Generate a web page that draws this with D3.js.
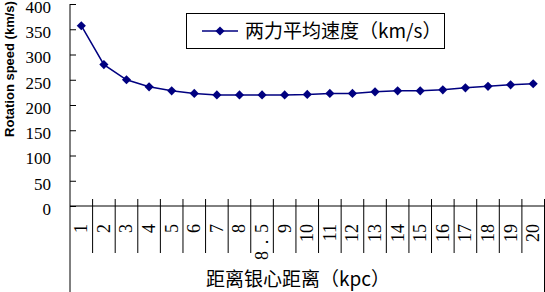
<!DOCTYPE html>
<html>
<head>
<meta charset="utf-8">
<script src="https://cdn.jsdelivr.net/npm/d3@7"></script>
<style>
    body { margin: 0; background: #fff; }
    svg { display: block; }
</style>
</head>
<body>
<svg id="chart" width="545" height="292"></svg>
<script>
// Distance from galactic centre (kpc) and mean rotation speed (km/s).
const distanceLabels = ['1', '2', '3', '4', '5', '6', '7', '8', '8．5', '9', '10',
    '11', '12', '13', '14', '15', '16', '17', '18', '19', '20'];
const speedValues = [357, 280, 250, 236, 228, 223, 220, 220, 220, 220, 221,
    223, 223, 226, 228, 228, 230, 234, 237, 240, 242];
const yTicks = [0, 50, 100, 150, 200, 250, 300, 350, 400];
const seriesName = '两力平均速度（km/s）';
const xTitle = '距离银心距离（kpc）';
const yTitle = 'Rotation speed (km/s)';

const svg = d3.select('#chart');
const plotLeft = 70, plotRight = 544.5, plotTop = 4, axisY = 206;
const numFont = "'Liberation Serif', 'Times New Roman', serif";
const cjkFont = "'Noto Sans CJK SC', sans-serif";
const navy = '#000080';

const x = d3.scaleBand().domain(distanceLabels).range([plotLeft, plotRight]).padding(0);
const y = d3.scaleLinear().domain([0, 400]).range([axisY, plotTop]);

// Y axis, ticks point inwards.
const yAxis = svg.append('g')
    .attr('transform', `translate(${plotLeft},0)`)
    .call(d3.axisLeft(y).tickValues(yTicks).tickSizeInner(-6).tickSizeOuter(0).tickPadding(19));
yAxis.select('.domain').remove();
yAxis.selectAll('.tick line').attr('stroke', '#000');
yAxis.selectAll('.tick text')
    .attr('y', 3)
    .style('font-family', numFont)
    .style('font-size', '17px')
    .attr('fill', '#000');

// Left axis line runs down through the category area.
svg.append('line')
    .attr('x1', plotLeft).attr('x2', plotLeft)
    .attr('y1', plotTop).attr('y2', 292)
    .attr('stroke', '#000');

// X axis baseline.
svg.append('line')
    .attr('x1', plotLeft).attr('x2', plotRight)
    .attr('y1', axisY).attr('y2', axisY)
    .attr('stroke', '#000');

// Category separators.
svg.append('g')
    .selectAll('line')
    .data(distanceLabels.slice(1))
    .join('line')
    .attr('x1', d => x(d)).attr('x2', d => x(d))
    .attr('y1', axisY - 7).attr('y2', 253)
    .attr('stroke', '#000');

svg.append('line')
    .attr('x1', plotRight).attr('x2', plotRight)
    .attr('y1', axisY - 7).attr('y2', 292)
    .attr('stroke', '#000');

// Rotated category labels.
svg.append('g')
    .selectAll('text')
    .data(distanceLabels)
    .join('text')
    .attr('transform', d => `translate(${x(d) + x.bandwidth() / 2 + 6},224) rotate(-90)`)
    .attr('text-anchor', 'end')
    .style('font-family', numFont)
    .style('font-size', '18px')
    .text(d => d);

// Series line and markers.
const pts = distanceLabels.map((d, i) => [x(d) + x.bandwidth() / 2, y(speedValues[i])]);
svg.append('path')
    .attr('d', d3.line()(pts))
    .attr('fill', 'none')
    .attr('stroke', navy)
    .attr('stroke-width', 1.5);

const diamond = d3.symbol(d3.symbolSquare, 42)();
svg.append('g')
    .selectAll('path')
    .data(pts)
    .join('path')
    .attr('d', diamond)
    .attr('transform', d => `translate(${d[0]},${d[1]}) rotate(45)`)
    .attr('fill', navy);

// Legend.
const legend = svg.append('g');
legend.append('rect')
    .attr('x', 186.5).attr('y', 13.5)
    .attr('width', 258).attr('height', 35)
    .attr('fill', '#fff')
    .attr('stroke', '#000');
legend.append('line')
    .attr('x1', 202).attr('x2', 238)
    .attr('y1', 31).attr('y2', 31)
    .attr('stroke', navy).attr('stroke-width', 1.5);
legend.append('path')
    .attr('d', diamond)
    .attr('transform', 'translate(220,31) rotate(45)')
    .attr('fill', navy);
legend.append('text')
    .attr('x', 245).attr('y', 38)
    .style('font-family', cjkFont)
    .style('font-size', '19px')
    .text(seriesName);

// Axis titles.
svg.append('text')
    .attr('x', 298).attr('y', 286)
    .attr('text-anchor', 'middle')
    .style('font-family', cjkFont)
    .style('font-size', '19px')
    .text(xTitle);

svg.append('text')
    .attr('transform', 'translate(14,69) rotate(-90)')
    .attr('text-anchor', 'middle')
    .style('font-family', "'Liberation Sans', Arial, sans-serif")
    .style('font-weight', 'bold')
    .style('font-size', '13px')
    .text(yTitle);
</script>
</body>
</html>
